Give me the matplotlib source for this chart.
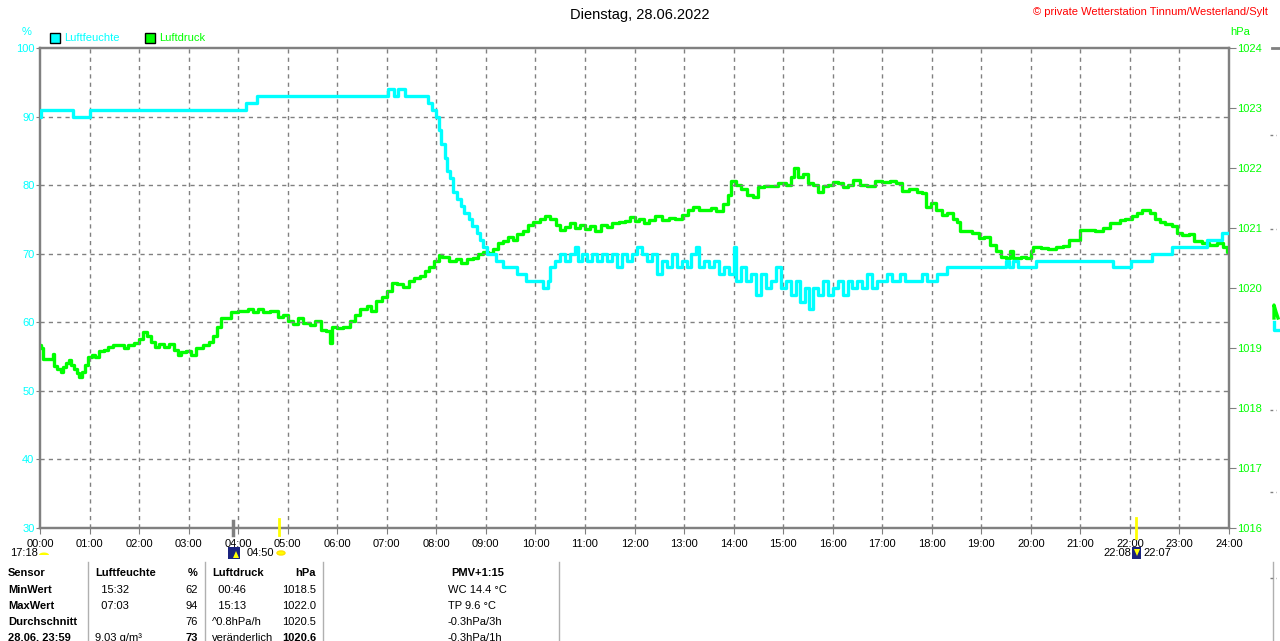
import matplotlib
matplotlib.use('Agg')
import matplotlib.pyplot as plt
from matplotlib.patches import Rectangle, Circle, Wedge, Polygon
from matplotlib.lines import Line2D

plt.rcParams['font.family'] = ['Liberation Sans', 'DejaVu Sans']

# Luftfeuchte (%) - time in hours
hum_t = [0.0, 0.03, 0.67, 1.0, 4.16, 4.38, 7.02, 7.15, 7.22, 7.36, 7.83, 7.92, 8.0,
         8.05, 8.1, 8.17, 8.22, 8.28, 8.34, 8.42, 8.5, 8.56, 8.65, 8.72, 8.82, 8.88,
         8.95, 9.02, 9.2, 9.35, 9.62, 9.8, 10.15, 10.25, 10.3, 10.4, 10.5, 10.6, 10.7,
         10.8, 10.85, 10.95, 11.05, 11.15, 11.25, 11.35, 11.45, 11.55, 11.65, 11.75,
         11.85, 11.95, 12.05, 12.15, 12.25, 12.35, 12.45, 12.55, 12.65, 12.75, 12.85,
         12.95, 13.05, 13.15, 13.25, 13.3, 13.4, 13.5, 13.6, 13.7, 13.8, 13.9, 14.0,
         14.05, 14.15, 14.25, 14.35, 14.45, 14.55, 14.65, 14.75, 14.85, 14.95, 15.05,
         15.15, 15.25, 15.35, 15.45, 15.53, 15.6, 15.7, 15.8, 15.9, 16.0, 16.1, 16.2,
         16.3, 16.4, 16.5, 16.6, 16.7, 16.8, 16.9, 17.1, 17.2, 17.35, 17.45, 17.8,
         17.9, 18.1, 18.3, 19.5, 19.55, 19.65, 19.75, 20.1, 21.65, 22.03, 22.45,
         22.85, 23.55, 23.86, 24.0]
hum_v = [90, 91, 90, 91, 92, 93, 94, 93, 94, 93, 92, 91, 90,
         88, 86, 84, 82, 81, 79, 78, 77, 76, 75, 74, 73, 72,
         71, 70, 69, 68, 67, 66, 65, 66, 68, 69, 70, 69, 70,
         71, 69, 70, 69, 70, 69, 70, 69, 70, 68, 70,
         69, 70, 71, 70, 69, 70, 67, 69, 68, 70, 68,
         69, 68, 70, 71, 68, 69, 68, 69, 67, 68, 67, 71,
         66, 68, 66, 67, 64, 67, 65, 66, 68, 65, 66,
         64, 66, 63, 65, 62, 65, 64, 66, 64, 65, 66, 64,
         66, 65, 66, 65, 67, 65, 66, 67, 66, 67, 66, 67,
         66, 67, 68, 69, 68, 69, 68, 69, 68, 69, 70,
         71, 72, 73, 73]

# Luftdruck (hPa)
pres_t = [0.0, 0.03, 0.07, 0.25, 0.27, 0.29, 0.35, 0.42, 0.47, 0.52, 0.58, 0.63, 0.68,
          0.75, 0.79, 0.84, 0.9, 0.97, 1.05, 1.12, 1.2, 1.3, 1.38, 1.48, 1.6, 1.7, 1.78,
          1.9, 2.0, 2.08, 2.15, 2.25, 2.32, 2.4, 2.5, 2.6, 2.7, 2.78, 2.85, 2.95, 3.05,
          3.15, 3.3, 3.42, 3.5, 3.58, 3.65, 3.75, 3.85, 4.0, 4.2, 4.3, 4.4, 4.5, 4.65,
          4.8, 4.9, 5.0, 5.1, 5.2, 5.3, 5.45, 5.55, 5.68, 5.78, 5.85, 5.9, 6.0, 6.12,
          6.25, 6.35, 6.45, 6.6, 6.68, 6.78, 6.9, 7.0, 7.1, 7.2, 7.32, 7.45, 7.55, 7.68,
          7.78, 7.85, 7.95, 8.05, 8.12, 8.25, 8.4, 8.5, 8.62, 8.75, 8.85, 8.95, 9.05,
          9.15, 9.25, 9.35, 9.45, 9.55, 9.62, 9.75, 9.85, 9.95, 10.1, 10.2, 10.3, 10.42,
          10.5, 10.6, 10.7, 10.8, 10.9, 11.0, 11.1, 11.2, 11.32, 11.45, 11.55, 11.68,
          11.8, 11.9, 12.0, 12.1, 12.2, 12.3, 12.42, 12.55, 12.7, 12.82, 12.95, 13.08,
          13.18, 13.3, 13.42, 13.55, 13.65, 13.78, 13.88, 13.95, 14.05, 14.15, 14.28,
          14.4, 14.5, 14.62, 14.8, 14.9, 15.05, 15.15, 15.22, 15.3, 15.4, 15.5, 15.6,
          15.7, 15.8, 15.9, 16.0, 16.1, 16.2, 16.3, 16.42, 16.55, 16.7, 16.85, 17.0,
          17.15, 17.28, 17.4, 17.55, 17.7, 17.8, 17.88, 17.98, 18.08, 18.2, 18.3, 18.42,
          18.5, 18.58, 18.7, 18.82, 18.95, 19.05, 19.18, 19.3, 19.4, 19.5, 19.58, 19.65,
          19.8, 19.9, 20.0, 20.05, 20.2, 20.35, 20.5, 20.65, 20.78, 21.0, 21.15, 21.3,
          21.45, 21.6, 21.8, 21.9, 22.05, 22.15, 22.25, 22.4, 22.5, 22.6, 22.7, 22.85,
          22.95, 23.05, 23.2, 23.3, 23.45, 23.6, 23.75, 23.88, 23.95, 24.0]
pres_v = [1019.05, 1019.0, 1018.82, 1018.82, 1018.9, 1018.7, 1018.65, 1018.6, 1018.68,
          1018.75, 1018.8, 1018.72, 1018.65, 1018.58, 1018.52, 1018.6, 1018.72, 1018.85,
          1018.88, 1018.85, 1018.95, 1018.97, 1019.02, 1019.05, 1019.05, 1019.0, 1019.05,
          1019.08, 1019.15, 1019.27, 1019.2, 1019.1, 1019.02, 1019.07, 1019.02, 1019.07,
          1018.97, 1018.88, 1018.93, 1018.95, 1018.88, 1019.0, 1019.05, 1019.1, 1019.2,
          1019.35, 1019.5, 1019.5, 1019.6, 1019.62, 1019.65, 1019.6, 1019.65, 1019.6,
          1019.62, 1019.52, 1019.55, 1019.45, 1019.4, 1019.5, 1019.42, 1019.38, 1019.45,
          1019.3, 1019.28, 1019.08, 1019.35, 1019.33, 1019.35, 1019.45, 1019.55, 1019.65,
          1019.7, 1019.62, 1019.78, 1019.85, 1019.95, 1020.08, 1020.07, 1020.02, 1020.12,
          1020.17, 1020.2, 1020.28, 1020.35, 1020.45, 1020.55, 1020.52, 1020.45, 1020.48,
          1020.42, 1020.48, 1020.5, 1020.57, 1020.6, 1020.58, 1020.65, 1020.75, 1020.78,
          1020.85, 1020.8, 1020.9, 1020.95, 1021.05, 1021.1, 1021.15, 1021.2, 1021.15,
          1021.05, 1020.97, 1021.02, 1021.08, 1021.0, 1021.05, 1020.98, 1021.03, 1020.95,
          1021.05, 1021.02, 1021.08, 1021.1, 1021.12, 1021.18, 1021.12, 1021.15, 1021.08,
          1021.13, 1021.2, 1021.13, 1021.17, 1021.15, 1021.22, 1021.3, 1021.35, 1021.3,
          1021.3, 1021.33, 1021.28, 1021.4, 1021.55, 1021.78, 1021.72, 1021.65, 1021.55,
          1021.52, 1021.68, 1021.7, 1021.7, 1021.75, 1021.72, 1021.85, 1022.0, 1021.85,
          1021.9, 1021.75, 1021.72, 1021.6, 1021.7, 1021.72, 1021.77, 1021.75, 1021.68,
          1021.72, 1021.8, 1021.72, 1021.7, 1021.78, 1021.77, 1021.78, 1021.75, 1021.62,
          1021.65, 1021.6, 1021.58, 1021.35, 1021.42, 1021.3, 1021.22, 1021.25, 1021.15,
          1021.1, 1020.95, 1020.95, 1020.92, 1020.83, 1020.85, 1020.72, 1020.62, 1020.52,
          1020.5, 1020.62, 1020.5, 1020.52, 1020.5, 1020.62, 1020.68, 1020.67, 1020.65,
          1020.68, 1020.7, 1020.8, 1020.97, 1020.97, 1020.95, 1021.0, 1021.08, 1021.13,
          1021.15, 1021.2, 1021.25, 1021.3, 1021.25, 1021.15, 1021.1, 1021.07, 1021.03,
          1020.92, 1020.88, 1020.9, 1020.78, 1020.75, 1020.72, 1020.75, 1020.68, 1020.6,
          1020.6]

hours = list(range(25))
hour_labels = ['%02d:00' % h for h in hours]
sunrise = 4 + 50 / 60
sunset = 22 + 7 / 60
moonrise = 3.9

table_rows = [
    ('Sensor', 'Luftfeuchte', '%', 'Luftdruck', 'hPa', 'PMV+1:15'),
    ('MinWert', '  15:32', '62', '  00:46', '1018.5', 'WC 14.4 °C'),
    ('MaxWert', '  07:03', '94', '  15:13', '1022.0', 'TP 9.6 °C'),
    ('Durchschnitt', '', '76', '^0.8hPa/h', '1020.5', '-0.3hPa/3h'),
    ('28.06. 23:59', '9.03 g/m³', '73', 'veränderlich', '1020.6', '-0.3hPa/1h'),
]

W, H = 1280, 641
CYAN = '#00ffff'
GREEN = '#00ff00'
GRAY = '#808080'


def fx(x):
    return x / W


def fy(y):
    return 1 - y / H


fig = plt.figure(figsize=(12.8, 6.41), dpi=100)
ax = fig.add_axes([fx(40), fy(528), (1229 - 40) / W, 480 / H])
ax2 = ax.twinx()

ax.set_xlim(0, 24)
ax.set_ylim(30, 100)
ax2.set_ylim(1016, 1024)

# grid
for h in hours[1:-1]:
    ax.axvline(h, color=GRAY, lw=1, ls=(0, (3, 3)), zorder=0)
for v in range(40, 100, 10):
    ax.axhline(v, color=GRAY, lw=1, ls=(0, (3, 3)), zorder=0)

ax.plot(hum_t, hum_v, color=CYAN, lw=2.4, drawstyle='steps-post', zorder=3)
ax2.plot(pres_t, pres_v, color=GREEN, lw=2.4, drawstyle='steps-post', zorder=3)
ax.set_zorder(ax2.get_zorder() + 1)
ax.patch.set_visible(False)

for a in (ax, ax2):
    for s in a.spines.values():
        s.set_color(GRAY)
        s.set_linewidth(1.6)

ax.set_xticks(hours)
ax.set_xticklabels(hour_labels, fontsize=8, color='black')
ax.set_yticks(range(30, 101, 10))
ax.tick_params(axis='y', colors=GRAY, labelcolor=CYAN, labelsize=8, length=3, pad=1)
ax.tick_params(axis='x', colors=GRAY, labelcolor='black', length=4, pad=4)
ax2.set_yticks(range(1016, 1025))
ax2.tick_params(axis='y', colors=GRAY, labelcolor=GREEN, labelsize=8, length=5, pad=1)

# sun / moon markers on x axis
ax.plot([sunrise, sunrise], [29.0, 31.3], color='#ffff00', lw=2, clip_on=False, zorder=5)
ax.plot([sunset, sunset], [28.5, 31.5], color='#ffff00', lw=2, clip_on=False, zorder=5)
ax.plot([moonrise, moonrise], [29.0, 31.0], color=GRAY, lw=2.5, clip_on=False, zorder=5)

# title and header texts
fig.text(0.5, fy(15), 'Dienstag, 28.06.2022', ha='center', va='center', fontsize=10.5)
fig.text(fx(1268), fy(12), '© private Wetterstation Tinnum/Westerland/Sylt', ha='right',
         va='center', fontsize=8, color='red')
fig.text(fx(27), fy(32), '%', ha='center', va='center', fontsize=8, color=CYAN)
fig.text(fx(1240), fy(32), 'hPa', ha='center', va='center', fontsize=8, color=GREEN)

fig.add_artist(Rectangle((fx(50), fy(43)), 10 / W, 10 / H, transform=fig.transFigure,
                         fc=CYAN, ec='black', lw=1))
fig.text(fx(64), fy(38), 'Luftfeuchte', va='center', fontsize=8, color=CYAN)
fig.add_artist(Rectangle((fx(145), fy(43)), 10 / W, 10 / H, transform=fig.transFigure,
                         fc=GREEN, ec='black', lw=1))
fig.text(fx(159), fy(38), 'Luftdruck', va='center', fontsize=8, color=GREEN)

# astro row below the axis
fig.text(fx(10), fy(553), '17:18', va='center', fontsize=8)
fig.add_artist(Wedge((fx(44), fy(555)), 5 / W, 0, 180, transform=fig.transFigure,
                     fc='#ffff00', ec='none'))
fig.add_artist(Rectangle((fx(228), fy(559)), 12 / W, 12 / H, transform=fig.transFigure,
                         fc='#1a237e', ec='none'))
fig.add_artist(Polygon([(fx(233), fy(558)), (fx(236), fy(551)), (fx(239), fy(558))],
                       closed=True, transform=fig.transFigure, fc='#ffff00', ec='none'))
fig.text(fx(247), fy(553), '04:50', va='center', fontsize=8)
fig.add_artist(Circle((fx(281), fy(553)), 4 / W, transform=fig.transFigure,
                      fc='#ffff00', ec='#ffe000'))
fig.text(fx(1131), fy(553), '22:08', ha='right', va='center', fontsize=8)
fig.add_artist(Rectangle((fx(1132), fy(559)), 9 / W, 12 / H, transform=fig.transFigure,
                         fc='#1a237e', ec='none'))
fig.add_artist(Polygon([(fx(1134), fy(549)), (fx(1137), fy(556)), (fx(1140), fy(549))],
                       closed=True, transform=fig.transFigure, fc='#ffff00', ec='none'))
fig.text(fx(1143), fy(553), '22:07', va='center', fontsize=8)

# table
row_y = [573, 590, 606, 622, 638]
for i, row in enumerate(table_rows):
    y = fy(row_y[i])
    head = i == 0
    fig.text(fx(8), y, row[0], va='center', fontsize=8, weight='bold')
    fig.text(fx(95), y, row[1], va='center', fontsize=8,
             weight='bold' if head else 'normal')
    fig.text(fx(198), y, row[2], ha='right', va='center', fontsize=8,
             weight='bold' if (head or i == 4) else 'normal')
    fig.text(fx(212), y, row[3], va='center', fontsize=8,
             weight='bold' if head else 'normal')
    fig.text(fx(316), y, row[4], ha='right', va='center', fontsize=8,
             weight='bold' if (head or i == 4) else 'normal')
    if head:
        fig.text(fx(478), y, row[5], ha='center', va='center', fontsize=8, weight='bold')
    else:
        fig.text(fx(448), y, row[5], va='center', fontsize=8)

for xs in (88, 205, 323, 559):
    fig.add_artist(Line2D([fx(xs), fx(xs)], [fy(562), 0], color='#b0b0b0', lw=1))

# clipped neighbour chart at the right edge
fig.add_artist(Line2D([fx(1272), 1], [fy(48), fy(48)], color=GRAY, lw=2))
fig.add_artist(Line2D([fx(1273), fx(1273)], [fy(562), 0], color='#b0b0b0', lw=1))
for ys in (135, 229, 410, 492, 578):
    fig.add_artist(Line2D([fx(1270), fx(1276)], [fy(ys), fy(ys)], color=GRAY, lw=1,
                          ls=(0, (2, 2))))
fig.add_artist(Line2D([fx(1274), fx(1274), fx(1276), fx(1278)],
                      [fy(318), fy(305), fy(312), fy(318)], color=GREEN, lw=2.4))
fig.add_artist(Line2D([fx(1274), fx(1274), fx(1278)],
                      [fy(322), fy(330), fy(330)], color=CYAN, lw=2.4))

fig.savefig('out.png', dpi=100)
